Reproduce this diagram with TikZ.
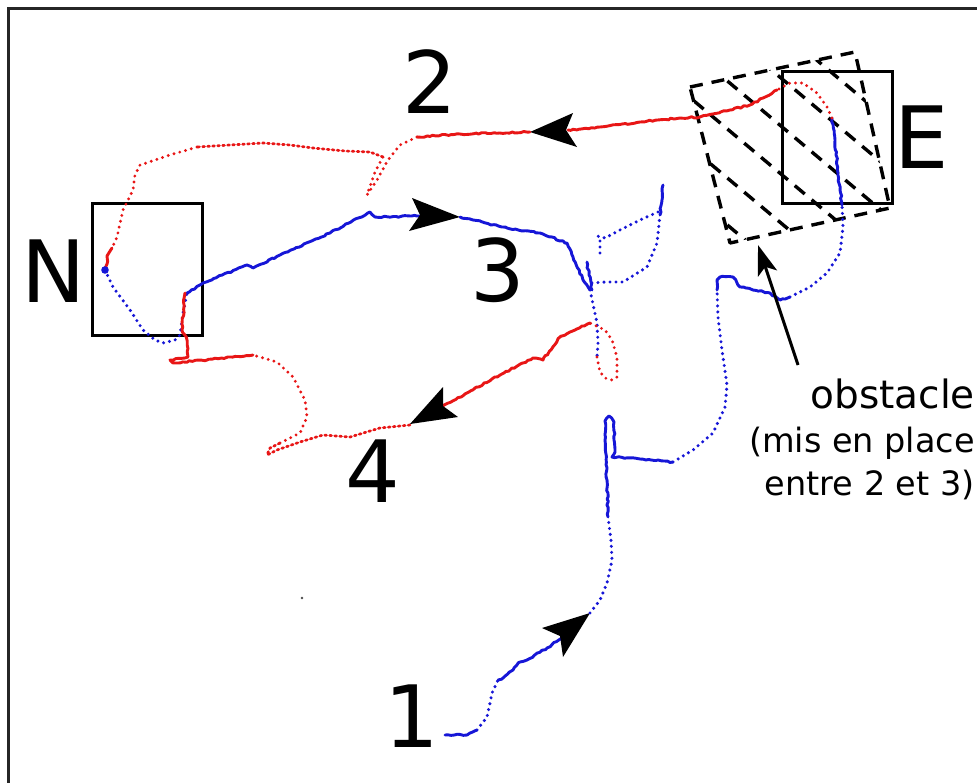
\documentclass[tikz,border=0pt]{standalone}
\usepackage{fontspec}
\setmainfont{DejaVu Sans}
\usetikzlibrary{decorations.pathmorphing,arrows.meta}
\definecolor{tred}{RGB}{232,22,22}
\definecolor{tblue}{RGB}{22,22,215}
\begin{document}
\begin{tikzpicture}[x=1pt,y=-1pt,
  noisy/.style={decorate,decoration={random steps,segment length=3pt,amplitude=0.8pt}},
  bs/.style={draw=tblue,line width=2.9pt,line join=round,line cap=round,noisy},
  bd/.style={draw=tblue,line width=3.4pt,line cap=round,dash pattern=on 0pt off 6pt},
  rs/.style={draw=tred,line width=2.9pt,line join=round,line cap=round,noisy},
  rd/.style={draw=tred,line width=3.2pt,line cap=round,dash pattern=on 0pt off 6pt},
  rdd/.style={draw=tred,line width=2.7pt,line cap=round,dash pattern=on 1.8pt off 3.2pt},
  lab/.style={inner sep=0pt,anchor=base,font=\fontsize{86}{86}\selectfont},
  obsdash/.style={draw=black,line width=3.4pt,dash pattern=on 13pt off 9pt},
  head/.style={fill=black}]
\pgfmathsetseed{7}
\useasboundingbox (0,0) rectangle (977,782);
\fill[white] (0,0) rectangle (977,782);
\draw[line width=3pt,black!85] (8,8) rectangle (995,800);

% obstacle (dashed, hatched)
\begin{scope}
  \clip (690,87) -- (855,52) -- (890,208) -- (730,243) -- cycle;
  \foreach \c in {-386,-433,-482,-530,-578,-626,-674}
    \draw[obsdash] (660,{0.84*660+\c}) -- (910,{0.84*910+\c});
\end{scope}
\draw[obsdash,line join=round] (690,87) -- (855,52) -- (890,208) -- (730,243) -- cycle;

% N and E boxes
\draw[line width=3pt] (92,203) rectangle (202,335);
\draw[line width=3pt] (782,71) rectangle (892,203);

% trajectory 1 (blue)
\draw[bs] (445,735) -- (467,735) -- (477,730);
\draw[bd] (477,730) -- (487,717) -- (490,703) -- (492,693) -- (498,680);
\draw[bs] (498,680) -- (503,678) -- (513,670) -- (520,662) -- (527,660) -- (547,648) -- (562,638);
\fill[head] (590,613) -- (542,628) -- (560,636) -- (563,657) -- cycle;
\draw[bd] (590,613) -- (600,600) -- (607,583) -- (612,560) -- (611,540) -- (608,517);
\draw[bs] (608,517) -- (607,480) -- (605,440) -- (605,421) -- (609,416) -- (614,422) -- (615,452) -- (612,457) -- (640,459) -- (673,462);
\draw[bd] (673,462) -- (693,450) -- (713,433) -- (725,407) -- (727,385) -- (722,350) -- (718,317) -- (717,290);
\draw[bs] (717,290) -- (717,280) -- (720,277) -- (733,277) -- (740,287) -- (753,290) -- (770,293) -- (780,300) -- (790,297);
\draw[bd] (790,297) -- (810,287) -- (827,273) -- (840,253) -- (843,227) -- (842,205);
\draw[bs] (842,205) -- (838,173) -- (835,140) -- (832,118);

% trajectory 2 (red)
\draw[rd] (832,118) -- (827,107) -- (817,93) -- (803,83) -- (790,83) -- (777,90);
\draw[rs] (777,90) -- (763,98) -- (750,105) -- (730,110) -- (700,117) -- (680,118) -- (640,122) -- (600,127) -- (568,130);
\fill[head] (530,132) -- (573,113) -- (566,130) -- (577,147) -- cycle;
\draw[rs] (530,132) -- (500,133) -- (460,134) -- (417,137);
\draw[rd] (417,137) -- (400,145) -- (388,160) -- (377,180) -- (367,195) -- (375,172) -- (383,157);
\draw[rdd] (383,157) -- (370,152) -- (345,151) -- (313,148) -- (290,145) -- (263,143) -- (230,145) -- (197,147);
\draw[rd] (197,147) -- (170,155) -- (140,165) -- (135,175) -- (133,190) -- (123,210) -- (117,237) -- (112,248);
\draw[rs] (112,248) -- (107,256) -- (107,264) -- (105,270);

% trajectory 3 (blue)
\fill[tblue] (105,270) circle (3.8);
\draw[bd] (105,270) -- (113,287) -- (130,310) -- (143,330) -- (155,340) -- (163,343) -- (175,340) -- (180,335) -- (183,313) -- (187,293);
\draw[bs] (187,293) -- (203,283) -- (247,265) -- (253,268) -- (280,255) -- (330,233) -- (370,212) -- (375,217) -- (420,216);
\fill[head] (460,217) -- (412,198) -- (420,215) -- (409,231) -- cycle;
\draw[bs] (460,217) -- (473,220) -- (507,228) -- (540,233) -- (567,243) -- (573,257) -- (583,280) -- (590,290);
\draw[bd] (590,290) -- (597,323) -- (598,343) -- (597,357);
\draw[bs] (587,262) -- (589,275) -- (592,290);
\draw[bd] (592,283) -- (605,282) -- (623,282) -- (647,267) -- (657,243) -- (660,215);
\draw[bs] (660,215) -- (662,200) -- (663,185);
\draw[bd] (658,212) -- (640,220) -- (620,230) -- (605,238) -- (597,236);
\draw[bd] (600,241) -- (600,257);

% trajectory 4 (red)
\draw[rd] (597,357) -- (600,372) -- (605,378) -- (612,380) -- (617,377) -- (617,357) -- (612,340) -- (605,330) -- (590,323);
\draw[rs] (590,323) -- (575,330) -- (560,337) -- (543,360) -- (533,358) -- (500,375) -- (443,406);
\fill[head] (410,424) -- (443,387) -- (443,406) -- (458,417) -- cycle;
\draw[rdd] (410,425) -- (380,428) -- (350,437) -- (323,435) -- (300,442) -- (277,450) -- (267,455) -- (270,448) -- (280,443);
\draw[rd] (280,443) -- (300,433) -- (307,417) -- (305,400) -- (293,377) -- (277,362) -- (253,355);
\draw[rs] (253,355) -- (230,357) -- (207,360) -- (173,363) -- (170,360) -- (188,357) -- (187,340) -- (182,330) -- (185,293);

% stray point
\fill[black!70] (302,598) circle (1.3);

% labels
\node[lab] (l2) at (430,113) {2};
\node[lab] (l3) at (498,301) {3};
\node[lab] (l4) at (373,502) {4};
\node[lab] (l1) at (412,747) {1};
\node[lab] (lN) at (54,302) {N};
\node[lab] (lE) at (922,168) {E};

% obstacle note
\node[inner sep=0pt,anchor=base east,font=\fontsize{39}{39}\selectfont] (obs) at (975,408) {obstacle};
\node[inner sep=0pt,anchor=base east,font=\fontsize{33.5}{33.5}\selectfont] (obs2) at (975,452) {(mis en place};
\node[inner sep=0pt,anchor=base east,font=\fontsize{33.5}{33.5}\selectfont] (obs3) at (975,495) {entre 2 et 3)};
\coordinate (oa) at (798,365);
\coordinate (ob) at (758,245);
\draw[line width=3pt,-{Stealth[length=30pt,width=20pt,inset=7pt]}] (oa) -- (ob);
\end{tikzpicture}
\end{document}
